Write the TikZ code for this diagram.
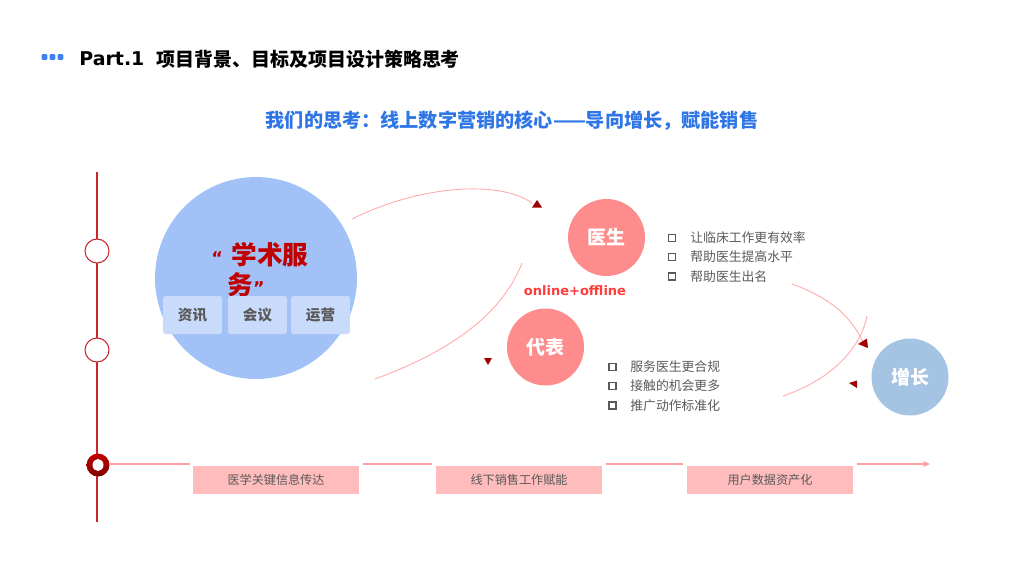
\documentclass[tikz,border=0pt]{standalone}
\usepackage{fontspec}
\setmainfont{Noto Sans CJK SC}
\newfontfamily\latin{DejaVu Sans}
\usetikzlibrary{arrows.meta}
\definecolor{cDot}{HTML}{3D7FF0}
\definecolor{cSub}{HTML}{2E75E6}
\definecolor{cVred}{HTML}{C8262B}
\definecolor{cBig}{HTML}{A2C1F6}
\definecolor{cSmall}{HTML}{C9DBFB}
\definecolor{cAcad}{HTML}{C00000}
\definecolor{cPink}{HTML}{FF8C8C}
\definecolor{cGrow}{HTML}{A5C3E2}
\definecolor{cArc}{HTML}{FFAAAA}
\definecolor{cTri}{HTML}{A00000}
\definecolor{cHline}{HTML}{FFA0A0}
\definecolor{cBox}{HTML}{FFBCBC}
\definecolor{cGray}{HTML}{595959}
\definecolor{cOnline}{HTML}{FF3B3B}
\tikzset{
  titledot/.style={fill=cDot, rounded corners=0.6pt, minimum size=0.115cm, inner sep=0},
  vcirc/.style={circle, draw=cVred, fill=white, line width=0.6pt, minimum size=0.48cm, inner sep=0},
  pinkcirc/.style={circle, fill=cPink, minimum size=1.54cm, inner sep=0, text=white, font=\bfseries\fontsize{10.8}{12}\selectfont},
  smallbox/.style={fill=cSmall, rounded corners=1pt, minimum width=1.18cm, minimum height=0.76cm, inner sep=0, text=cGray, font=\bfseries\fontsize{8.3}{10}\selectfont},
  bullet/.style={draw=cGray, line width=1.1pt, minimum size=0.14cm, inner sep=0},
  btext/.style={anchor=west, inner sep=0, text=cGray, font=\fontsize{7.3}{9}\selectfont},
  arcline/.style={draw=cArc, line width=0.5pt},
  hline/.style={draw=cHline, line width=0.8pt},
  stagebox/.style={fill=cBox, minimum width=3.32cm, minimum height=0.56cm, inner sep=0, text=cGray, font=\fontsize{6.9}{8}\selectfont},
  quotefont/.style={font=\latin\bfseries\fontsize{10}{12}\selectfont},
}
\begin{document}
\begin{tikzpicture}[x=0.02cm, y=-0.02cm]
\useasboundingbox (0,0) rectangle (1024,576);
% title
\node[titledot] (d1) at (44.5,57) {};
\node[titledot] (d2) at (52.5,57) {};
\node[titledot] (d3) at (60.5,57) {};
\node[anchor=west, inner sep=0, font=\latin\bfseries\fontsize{10.8}{12}\selectfont] (part) at (79,59) {Part.1};
\node[anchor=west, inner sep=0, font=\bfseries\fontsize{10.8}{12}\selectfont] (title) at (156,59) {项目背景、目标及项目设计策略思考};
\node[inner sep=0, text=cSub, font=\bfseries\fontsize{10.9}{12}\selectfont] (sub) at (512,121) {我们的思考：线上数字营销的核心——导向增长，赋能销售};
% vertical line
\coordinate (vtop) at (97,172);
\coordinate (vbot) at (97,522);
\draw[cVred, line width=1pt] (vtop) -- (vbot);
\node[vcirc] (c1) at (97,251) {};
\node[vcirc] (c2) at (97,350) {};
\shade[top color=cAcad, bottom color=cTri!80!black] (98,465) circle [radius=11.5];
\fill[white] (98,465) ellipse [x radius=5.5, y radius=6];
\coordinate (c3) at (109,464);
% big circle
\node[circle, fill=cBig, minimum size=4.04cm, inner sep=0] (acad) at (256,278) {};
\node[anchor=west, inner sep=0, text=cAcad, font=\bfseries\fontsize{14.6}{16}\selectfont] (acad1) at (211,255) {{\latin\fontsize{10}{12}\selectfont “}\,\,学术服};
\node[anchor=west, inner sep=0, text=cAcad, font=\bfseries\fontsize{14.6}{16}\selectfont] (acad2) at (227,285) {务{\latin\fontsize{10}{12}\selectfont ”}};
\node[smallbox] (s1) at (192.5,315) {资讯};
\node[smallbox] (s2) at (257.5,315) {会议};
\node[smallbox] (s3) at (320.5,315) {运营};
% circles
\node[pinkcirc] (doc) at (606.5,237.5) {医生};
\node[pinkcirc] (rep) at (545.5,347) {代表};
\node[pinkcirc, fill=cGrow] (grow) at (910,377) {增长};
\node[inner sep=0, text=cOnline, font=\latin\bfseries\fontsize{7.4}{9}\selectfont] (online) at (575,291) {online+offline};
% bullets doctor
\node[bullet] (b11) at (672,238) {};
\node[btext] (t11) at (690,238) {让临床工作更有效率};
\node[bullet] (b12) at (672,257) {};
\node[btext] (t12) at (690,257) {帮助医生提高水平};
\node[bullet] (b13) at (672,276.5) {};
\node[btext] (t13) at (690,276.5) {帮助医生出名};
% bullets rep
\node[bullet] (b21) at (612.5,367) {};
\node[btext] (t21) at (630,367) {服务医生更合规};
\node[bullet] (b22) at (612.5,386) {};
\node[btext] (t22) at (630,386) {接触的机会更多};
\node[bullet] (b23) at (612.5,405.5) {};
\node[btext] (t23) at (630,405.5) {推广动作标准化};
% arcs
\coordinate (a1s) at (352,219); \coordinate (a1e) at (532,203);
\draw[arcline] (a1s) .. controls (420,185) and (500,180) .. (a1e);
\coordinate (a2s) at (375,379); \coordinate (a2e) at (522,263);
\draw[arcline] (a2s) .. controls (440,355) and (500,320) .. (a2e);
\coordinate (a3s) at (792,284); \coordinate (a3e) at (863,342);
\draw[arcline] (a3s) .. controls (830,298) and (850,315) .. (a3e);
\coordinate (a4s) at (783,396); \coordinate (a4e) at (867,316);
\draw[arcline] (a4s) .. controls (830,380) and (860,350) .. (a4e);
\fill[cTri] (532,207.5) -- (542,207.5) -- (537,200) -- cycle;
\fill[cTri] (484,358) -- (492,358) -- (488,365) -- cycle;
\fill[cTri] (858,344) -- (867,338.5) -- (868,348) -- cycle;
\fill[cTri] (849,383) -- (857,380.5) -- (857,388) -- cycle;
% timeline
\node[stagebox] (st1) at (276,480) {医学关键信息传达};
\node[stagebox] (st2) at (519,480) {线下销售工作赋能};
\node[stagebox] (st3) at (770,480) {用户数据资产化};
\coordinate (hend) at (930,464);
\draw[hline, shorten >=1.7pt] (c3) -- (c3 -| st1.west);
\draw[hline, shorten <=2pt, shorten >=2pt] (c3 -| st1.east) -- (c3 -| st2.west);
\draw[hline, shorten <=2pt, shorten >=2pt] (c3 -| st2.east) -- (c3 -| st3.west);
\draw[hline, shorten <=2pt, -{Stealth[length=4pt,width=3.5pt]}] (c3 -| st3.east) -- (hend);
\end{tikzpicture}
\end{document}
